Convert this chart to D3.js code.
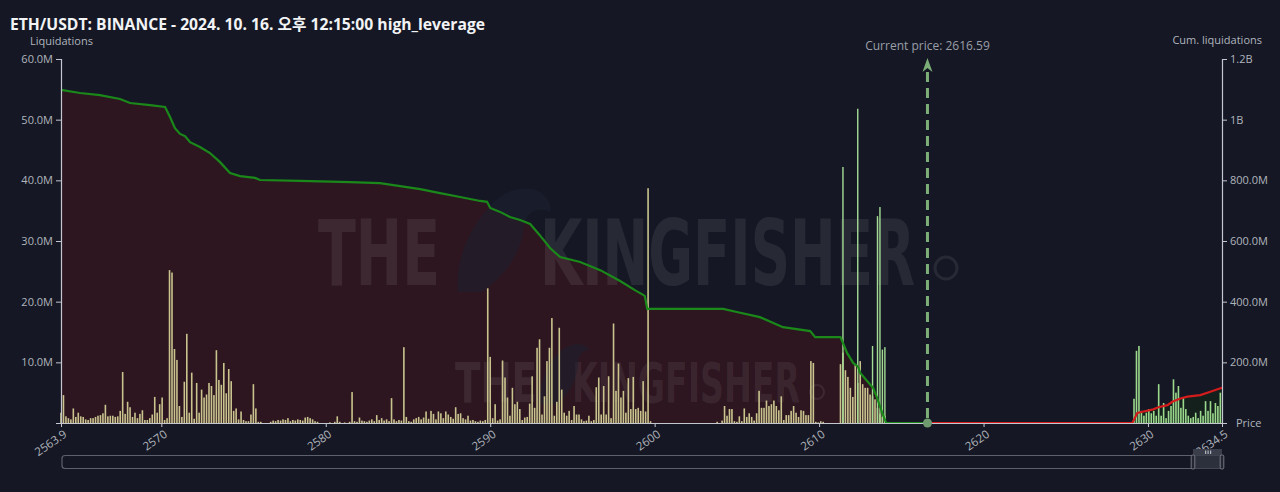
<!DOCTYPE html>
<html><head><meta charset="utf-8">
<script src="https://cdn.jsdelivr.net/npm/d3@7"></script>
<style>
html,body{margin:0;padding:0;background:#151824;}
svg{display:block;}
</style></head><body>
<svg id="c" width="1280" height="492"></svg>
<script>
// ---------- DATA ----------
const titleText = "ETH/USDT: BINANCE - 2024. 10. 16. 오후 12:15:00 high_leverage";
const currentPrice = 2616.59;
const binStart = 2563.9;
const binStep = 0.15;
// liquidation bars below current price (millions), one per price bin
const longLiq = [
 1.7,4.6,1.1,0.8,0.6,2.4,1.0,1.7,1.1,1.0,
 0.6,0.5,0.8,0.8,1.0,1.2,1.3,1.6,3.0,1.1,
 1.2,1.2,1.0,1.1,2.0,8.4,1.5,3.5,2.6,1.0,
 1.7,0.8,1.5,2.1,0.5,0.5,0.8,1.4,4.3,1.7,
 3.1,4.2,0.5,0.8,25.2,24.8,12.2,10.4,2.8,1.0,
 6.8,14.7,1.7,8.3,0.7,6.6,1.7,5.5,4.2,4.7,
 6.6,6.1,4.6,12.0,7.1,6.3,9.9,4.9,8.9,6.9,
 2.0,2.4,0.6,1.9,0.5,0.3,0.3,1.4,6.4,2.4,
 0.2,0.2,0,0,0,0.2,0.4,0.3,0.5,0.4,
 0.6,0.5,0.8,0.3,0.5,0.4,0.6,0.5,0.4,0.9,
 1.0,0.8,0.6,0.3,0.2,0,0,0,0,0.1,
 0,0.2,1.1,0.2,0,0.1,0,0.2,5.1,0.3,
 0.2,0.9,0.4,0.3,0.2,0.4,0.6,0.3,1.3,0.5,
 0.8,0.4,0.6,0.3,4.1,0.6,0.3,0.5,0.4,12.5,
 1.0,0.3,0.2,0.6,0.8,1.0,0.6,0.9,1.9,0.7,
 2.0,1.5,0.6,1.9,1.6,0.8,1.9,1.4,1.0,0.7,
 2.6,1.5,1.6,0.8,0.6,1.2,0.4,0.5,0.3,0.2,
 0.4,0.3,0.5,22.2,10.9,0.8,3.1,0.4,0.6,10.3,
 7.5,4.2,1.2,5.8,3.1,3.5,2.3,0.5,0.9,1.0,
 3.2,7.7,2.5,12.4,13.8,1.4,4.4,10.2,12.4,17.3,
 1.2,3.5,15.7,5.5,1.7,1.2,2.0,0.5,2.8,1.4,
 1.4,0.6,0.3,0.4,1.2,0.3,0.5,5.9,7.5,1.4,
 6.1,1.4,7.7,0.8,16.4,5.3,9.8,4.2,5.3,1.7,
 7.4,2.3,7.6,2.3,2.5,2.0,6.9,1.9,38.7,0.3,
 0,0,0,0,0,0,0,0,0,0,
 0,0,0,0,0,0,0,0,0,0,
 0,0,0,0,0,0,0.2,0,0.4,2.8,
 1.2,2.3,2.3,0.3,0.2,1.1,0.3,2.4,1.0,1.6,
 1.0,0.4,1.6,5.3,2.5,2.5,3.7,2.8,3.1,3.7,
 2.8,2.1,4.4,0.5,1.3,1.3,2.0,2.8,1.7,1.0,
 2.1,2.0,1.3,1.3,10.2,9.9,0.2,0.1,0.3,0.2,
 0,0,0,0,0,0,9.7,11.6,8.7,7.6,
 5.8,4.3,9.7,6.6,10.2,6.4,5.8,5.8,4.7,4.4,
 3.9,2.5,1.5,1.0,1.2,0
];
// high-leverage spikes near the current price
const spikePrices = [2611.45, 2612.35, 2613.25, 2613.55, 2613.70, 2613.85, 2614.00];
const spikeValues = [42.2, 51.8, 12.7, 34.1, 35.6, 12.1, 12.5];
// liquidation bars above current price
const shortStart = 2629.15;
const shortLiq = [4.0,11.9,12.7,2.0,1.2,1.7,2.3,1.6,2.0,1.2,6.4,1.2,3.3,0.8,2.0,2.8,7.2,5.0,6.1,2.5,
 4.2,2.3,1.2,0.8,1.0,1.7,0.8,2.0,1.2,3.6,2.0,3.6,1.6,3.3,2.8,5.0];
// cumulative liquidations (millions, right axis)
const cumLongPrices = [2563.9,2565.06,2566.27,2567.49,2568.1,2569.31,2570.23,2570.53,2570.83,2571.14,2571.44,2571.75,2572.35,2572.96,2573.57,2574.18,2574.79,2575.7,2576.0,2578.44,2581.48,2583.3,2584.52,2585.74,2586.95,2588.17,2589.39,2589.81,2590.0,2590.6,2591.2,2591.82,2592.43,2593.0,2593.64,2594.25,2595.47,2596.69,2597.9,2598.8,2599.4,2599.55,2602.77,2604.17,2605.0,2606.4,2607.8,2609.46,2609.76,2611.3,2611.7,2612.07,2612.38,2612.5,2613.29,2613.53,2613.84,2614.08,2616.59];
const cumLongValues = [1098,1088,1081,1068,1055,1048,1042,1009,972,953,946,926,910,890,860,824,814,808,801,798,794,791,781,771,758,745,732,729,709,696,679,669,656,620,577,547,531,504,468,438,419,376,376,376,366,349,316,303,283,283,231,198,185,165,115,82,33,0,0];
const cumShortPrices = [2616.59,2629.05,2629.35,2629.66,2630.32,2630.63,2631.18,2631.48,2631.97,2632.4,2633.18,2633.79,2634.5];
const cumShortValues = [0,0,33,37,45,52,59,70,81,87,92,103,116];
// axes
const xTickValues = [2563.9,2570,2580,2590,2600,2610,2620,2630,2634.5];
const xTickLabels = ["2563.9","2570","2580","2590","2600","2610","2620","2630","2634.5"];
const leftTickValues = [10,20,30,40,50,60];
const leftTickLabels = ["10.0M","20.0M","30.0M","40.0M","50.0M","60.0M"];
const rightTickValues = [200,400,600,800,1000,1200];
const rightTickLabels = ["200.0M","400.0M","600.0M","800.0M","1B","1.2B"];

// ---------- CHART ----------
const W = 1280, H = 492;
const svg = d3.select("#c");
const FONT = "'Open Sans','Noto Sans','Noto Sans CJK KR',sans-serif";
svg.append("rect").attr("width", W).attr("height", H).attr("fill", "#151824");

const x = d3.scaleLinear().domain([2563.9, 2634.5]).range([61, 1222]);
const y = d3.scaleLinear().domain([0, 60]).range([423, 59]);
const yR = d3.scaleLinear().domain([0, 1200]).range([423, 59]);

const longPts = cumLongPrices.map((p, i) => ({p, v: cumLongValues[i]}));
const shortPts = cumShortPrices.map((p, i) => ({p, v: cumShortValues[i]}));

// area fills
svg.append("path").datum(longPts)
  .attr("d", d3.area().x(d => x(d.p)).y0(yR(0)).y1(d => yR(d.v)))
  .attr("fill", "#2d1620");
svg.append("path").datum(shortPts)
  .attr("d", d3.area().x(d => x(d.p)).y0(yR(0)).y1(d => yR(d.v)))
  .attr("fill", "#14201c");

// watermark
const wm = svg.append("g").attr("fill", "#ffffff").attr("fill-opacity", 0.08)
  .attr("font-family", "'Liberation Sans Narrow','DejaVu Sans Condensed','Roboto',sans-serif")
  .attr("font-weight", "bold");
wm.append("text").attr("x", 318).attr("y", 285).attr("font-size", 90)
  .attr("textLength", 122).attr("lengthAdjust", "spacingAndGlyphs").text("THE");
wm.append("text").attr("x", 540).attr("y", 285).attr("font-size", 90)
  .attr("textLength", 375).attr("lengthAdjust", "spacingAndGlyphs").text("KINGFISHER");
const bird = svg.append("g").attr("fill", "#1d2030").attr("fill-opacity", 0.55);
bird.append("path").attr("d", "M458,292 C455,262 468,228 492,204 C505,190 525,184 540,192 C548,197 552,205 550,212 C538,206 526,212 524,226 C522,250 508,274 482,292 Z");
bird.append("path").attr("d", "M540,404 C539,384 547,362 562,350 C572,342 584,342 590,350 C582,350 578,356 578,364 C577,380 568,396 556,404 Z");
wm.append("circle").attr("cx", 946).attr("cy", 268).attr("r", 11).attr("fill", "none")
  .attr("stroke", "#ffffff").attr("stroke-opacity", 0.08).attr("stroke-width", 3);
wm.append("text").attr("x", 455).attr("y", 402).attr("font-size", 56)
  .attr("textLength", 82).attr("lengthAdjust", "spacingAndGlyphs").text("THE");
wm.append("text").attr("x", 572).attr("y", 402).attr("font-size", 56)
  .attr("textLength", 228).attr("lengthAdjust", "spacingAndGlyphs").text("KINGFISHER");
wm.append("circle").attr("cx", 817).attr("cy", 392).attr("r", 7).attr("fill", "none")
  .attr("stroke", "#ffffff").attr("stroke-opacity", 0.08).attr("stroke-width", 2);

// bars
const BW = 1.6;
const longData = longLiq.map((v, i) => ({p: binStart + i * binStep, v})).filter(d => d.v > 0);
svg.append("g").selectAll("rect").data(longData).join("rect")
  .attr("x", d => x(d.p) - BW / 2).attr("width", BW)
  .attr("y", d => y(d.v)).attr("height", d => y(0) - y(d.v))
  .attr("fill", "#c9c48e");
const spikeData = spikePrices.map((p, i) => ({p, v: spikeValues[i]}));
svg.append("g").selectAll("rect").data(spikeData).join("rect")
  .attr("x", d => x(d.p) - 0.7).attr("width", 1.4)
  .attr("y", d => y(d.v)).attr("height", d => y(0) - y(d.v))
  .attr("fill", "#a4dc94");
const shortData = shortLiq.map((v, i) => ({p: shortStart + i * binStep, v})).filter(d => d.v > 0);
svg.append("g").selectAll("rect").data(shortData).join("rect")
  .attr("x", d => x(d.p) - BW / 2).attr("width", BW)
  .attr("y", d => y(d.v)).attr("height", d => y(0) - y(d.v))
  .attr("fill", "#9bd98c");

// cumulative lines
const line = d3.line().x(d => x(d.p)).y(d => yR(d.v));
svg.append("path").datum(longPts).attr("d", line)
  .attr("fill", "none").attr("stroke", "#1a891a").attr("stroke-width", 2.2);
svg.append("path").datum(shortPts).attr("d", line)
  .attr("fill", "none").attr("stroke", "#d41c1c").attr("stroke-width", 2.2);

// axes
const axisColor = "#c4c7cf", textColor = "#b0b4bd";
function styleAxis(g, fs) {
  g.select(".domain").attr("stroke", axisColor).attr("stroke-width", 1.2);
  g.selectAll(".tick line").attr("stroke", axisColor);
  g.selectAll(".tick text").attr("fill", textColor).attr("font-family", FONT).attr("font-size", fs);
}
const gl = svg.append("g").attr("transform", "translate(61,0)")
  .call(d3.axisLeft(y).tickValues(leftTickValues)
    .tickFormat((d, i) => leftTickLabels[i]).tickSize(5).tickPadding(3).tickSizeOuter(5));
styleAxis(gl, 11);
const gr = svg.append("g").attr("transform", "translate(1222,0)")
  .call(d3.axisRight(yR).tickValues(rightTickValues)
    .tickFormat((d, i) => rightTickLabels[i]).tickSize(5).tickPadding(3).tickSizeOuter(5));
styleAxis(gr, 11);
const gx = svg.append("g").attr("transform", "translate(0,423)")
  .call(d3.axisBottom(x).tickValues(xTickValues)
    .tickFormat((d, i) => xTickLabels[i]).tickSize(4).tickSizeOuter(0));
styleAxis(gx, 11.5);
gx.selectAll(".tick text").attr("text-anchor", "end")
  .attr("transform", "translate(0,1) rotate(-35)").attr("dx", "-0.15em").attr("dy", "0.55em");

// axis titles
svg.append("text").attr("x", 30).attr("y", 45).text("Liquidations")
  .attr("fill", textColor).attr("font-family", FONT).attr("font-size", 11);
svg.append("text").attr("x", 1262).attr("y", 44).attr("text-anchor", "end").text("Cum. liquidations")
  .attr("fill", textColor).attr("font-family", FONT).attr("font-size", 11);
svg.append("text").attr("x", 1236).attr("y", 427).text("Price")
  .attr("fill", textColor).attr("font-family", FONT).attr("font-size", 11);

// current price marker
const cx = x(currentPrice);
svg.append("line").attr("x1", cx).attr("x2", cx).attr("y1", 418).attr("y2", 66)
  .attr("stroke", "#7cae78").attr("stroke-width", 3).attr("stroke-dasharray", "10,6");
svg.append("path").attr("d", `M${cx},58 L${cx-5},72 L${cx},68 L${cx+5},72 Z`).attr("fill", "#7cae78");
svg.append("circle").attr("cx", cx).attr("cy", 423).attr("r", 4.5).attr("fill", "#6f9a6f");
svg.append("text").attr("x", cx).attr("y", 50).attr("text-anchor", "middle")
  .text("Current price: " + currentPrice)
  .attr("fill", "#9a9ea8").attr("font-family", FONT).attr("font-size", 12);

// title
svg.append("text").attr("x", 10).attr("y", 30).text(titleText)
  .attr("fill", "#f2f3f5").attr("font-family", FONT).attr("font-size", 15.7).attr("font-weight", "bold");

// scrollbar
svg.append("rect").attr("x", 62).attr("y", 455.5).attr("width", 1160).attr("height", 13).attr("rx", 3)
  .attr("fill", "none").attr("stroke", "#5d616c").attr("stroke-width", 1.2);
svg.append("rect").attr("x", 1193).attr("y", 455.5).attr("width", 29).attr("height", 13)
  .attr("fill", "#2c303c");
svg.append("rect").attr("x", 1193).attr("y", 449).attr("width", 29).attr("height", 6.5)
  .attr("fill", "#3a3e4a");
[1205, 1207.5, 1210].forEach(v => svg.append("rect").attr("x", v).attr("y", 450.5).attr("width", 1.2).attr("height", 3.5).attr("fill", "#b0b4bc"));
[1193, 1222].forEach(v => svg.append("rect").attr("x", v - 1.8).attr("y", 455).attr("width", 3.6).attr("height", 14).attr("rx", 1.5)
  .attr("fill", "#232631").attr("stroke", "#8a8e98").attr("stroke-width", 0.8));
</script>
</body></html>
